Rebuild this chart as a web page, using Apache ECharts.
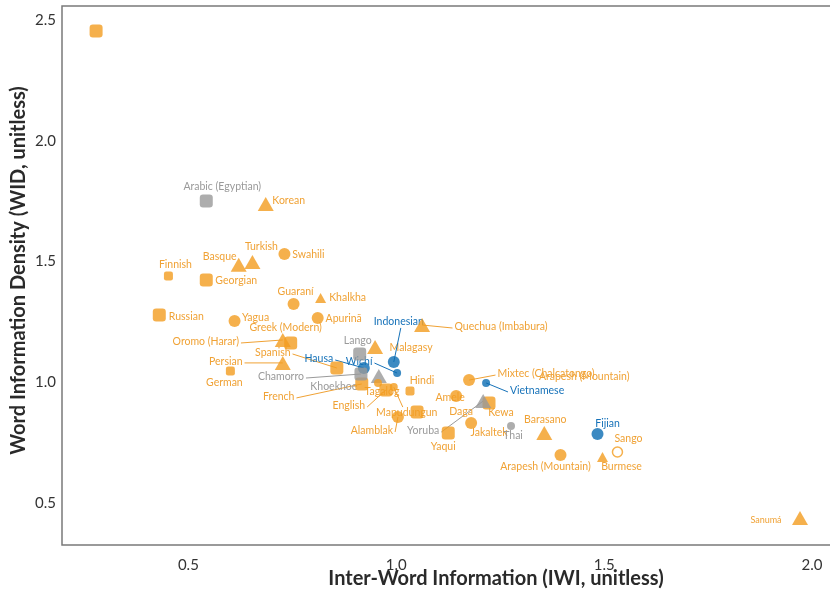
<!DOCTYPE html>
<html>
<head>
<meta charset="utf-8">
<script src="https://cdn.jsdelivr.net/npm/echarts@6/dist/echarts.min.js"></script>
<style>
  html, body { margin: 0; padding: 0; background: #fff; }
  #chart { width: 830px; height: 595px; }
</style>
</head>
<body>
<div id="chart"></div>
<script>
// Languages: inter-word information (IWI) vs word information density (WID)
const languages = ['', 'Arabic (Egyptian)', 'Korean', 'Turkish', 'Basque', 'Swahili', 'Finnish', 'Georgian',
  'Guaraní', 'Khalkha', 'Russian', 'Yagua', 'Apurinã', 'Greek (Modern)', 'Oromo (Harar)', 'Persian',
  'Spanish', 'German', 'Lango', 'Malagasy', 'Indonesian', 'Hausa', 'Wichí', 'French', 'Chamorro',
  'Khoekhoe', 'English', 'Tagalog', 'Mapudungun', 'Hindi', 'Alamblak', ' ', 'Amele',
  'Mixtec (Chalcatongo)', 'Vietnamese', 'Kewa', 'Yoruba', 'Jakaltek', 'Yaqui', 'Thai', 'Barasano',
  'Fijian', 'Sango', 'Burmese', 'Arapesh (Mountain)', 'Sanumá', 'Quechua (Imbabura)'];

const iwi = [0.278, 0.543, 0.686, 0.654, 0.621, 0.731, 0.452, 0.543,
  0.753, 0.818, 0.430, 0.611, 0.811, 0.746, 0.727, 0.727,
  0.857, 0.601, 0.912, 0.949, 0.994, 0.922, 1.002, 0.917, 0.915,
  0.958, 0.975, 0.956, 0.994, 1.033, 1.004, 1.050, 1.144,
  1.175, 1.216, 1.223, 1.209, 1.180, 1.125, 1.276, 1.356,
  1.484, 1.532, 1.496, 1.395, 1.971, 1.062];

const wid = [2.454, 1.751, 1.738, 1.498, 1.486, 1.531, 1.440, 1.423,
  1.324, 1.349, 1.278, 1.254, 1.266, 1.163, 1.175, 1.080,
  1.059, 1.047, 1.117, 1.146, 1.084, 1.059, 1.038, 0.993, 1.034,
  1.026, 0.968, 0.997, 0.980, 0.964, 0.856, 0.877, 0.943,
  1.009, 0.997, 0.914, 0.922, 0.831, 0.790, 0.819, 0.790,
  0.786, 0.711, 0.690, 0.699, 0.438, 1.237];

// group: a / b / c ; kind: square / circle / triangle / ring ; major: 1 = large marker class
const group = ['a', 'c', 'a', 'a', 'a', 'a', 'a', 'a',
  'a', 'a', 'a', 'a', 'a', 'a', 'a', 'a',
  'a', 'a', 'c', 'a', 'b', 'b', 'b', 'a', 'c',
  'c', 'a', 'a', 'a', 'a', 'a', 'a', 'a',
  'a', 'b', 'a', 'c', 'a', 'a', 'c', 'a',
  'b', 'a', 'a', 'a', 'a', 'a'];

const kind = ['square', 'square', 'triangle', 'triangle', 'triangle', 'circle', 'square', 'square',
  'circle', 'triangle', 'square', 'circle', 'circle', 'square', 'triangle', 'triangle',
  'square', 'square', 'square', 'triangle', 'circle', 'circle', 'circle', 'square', 'square',
  'triangle', 'square', 'circle', 'circle', 'square', 'circle', 'square', 'circle',
  'circle', 'circle', 'square', 'triangle', 'circle', 'square', 'circle', 'triangle',
  'circle', 'ring', 'triangle', 'circle', 'triangle', 'triangle'];

const major = [1, 1, 1, 1, 1, 1, 0, 1,
  1, 0, 1, 1, 1, 1, 1, 1,
  1, 0, 1, 1, 1, 1, 0, 1, 1,
  1, 1, 0, 0, 0, 1, 1, 1,
  1, 0, 1, 1, 1, 1, 0, 1,
  1, 1, 0, 1, 1, 1];

// Labels drawn without a marker of their own
const noteNames = ['Daga', 'Arapesh (Mountain)'];
const noteIwi = [1.156, 1.452];
const noteWid = [0.877, 1.022];

const xTicks = [0.5, 1.0, 1.5, 2.0];
const yTicks = [0.5, 1.0, 1.5, 2.0, 2.5];

// ---- presentation ----
const FILL = { a: '#F39C1F', b: '#0B6DB3', c: '#999999' };
const TEXT = { a: '#F0A235', b: '#1672B9', c: '#9A9A9A' };
const FONT = 'Lato, "Open Sans", sans-serif';
const LABEL_SIZE = 10.5;

function markerStyle(k, big) {
  if (k === 'square') return { symbol: 'roundRect', symbolSize: big ? 13 : 9 };
  if (k === 'circle') return { symbol: 'circle', symbolSize: big ? 12 : 8 };
  if (k === 'triangle') return { symbol: 'triangle', symbolSize: big ? [16, 14] : [11, 10] };
  return { symbol: 'circle', symbolSize: 10 };
}

// label centre offset from the marker centre (px); optional leader side: l / r / t / b
const labelPlace = {
  'Arabic (Egyptian)': [16, -14], 'Korean': [23, -3], 'Turkish': [9, -15], 'Basque': [-19, -8],
  'Swahili': [24, 1], 'Finnish': [7, -11], 'Georgian': [30, 1], 'Guaraní': [2, -12],
  'Khalkha': [27, 0], 'Russian': [27, 2], 'Yagua': [21, -3], 'Apurinã': [26, 1],
  'Greek (Modern)': [-5, -15], 'Oromo (Harar)': [-77, 2, 'r'], 'Persian': [-57, -1, 'r'],
  'Spanish': [-64, -15, 'r'], 'German': [-6, 12], 'Lango': [-2, -13], 'Malagasy': [36, 1],
  'Indonesian': [5, -40, 'b'], 'Hausa': [-45, -9, 'r'], 'Wichí': [-38, -11, 'r'],
  'Chamorro': [-80, 3, 'r'], 'Khoekhoe': [-45, 11], 'French': [-83, 13, 'r'],
  'English': [-37, 16, 'r'], 'Tagalog': [4, 9], 'Mapudungun': [13, 26, 't'], 'Hindi': [12, -10],
  'Alamblak': [-26, 14, 'r'], 'Amele': [-6, 2], 'Mixtec (Chalcatongo)': [77, -6, 'l'],
  'Vietnamese': [51, 8, 'l'], 'Kewa': [12, 10], 'Yoruba': [-60, 30, 'r'], 'Jakaltek': [18, 10],
  'Yaqui': [-5, 14], 'Thai': [2, 10], 'Barasano': [1, -13], 'Fijian': [10, -10], 'Sango': [11, -13],
  'Burmese': [19, 10], 'Arapesh (Mountain)': [-15, 12], 'Sanumá': [-34, 2], 'Quechua (Imbabura)': [79, 2, 'l']
};

// text width measurement for leader-line anchors
const measureCtx = document.createElement('canvas').getContext('2d');
function textWidth(text, size) {
  measureCtx.font = size + 'px ' + FONT;
  return measureCtx.measureText(text).width;
}

const labelRows = [];
languages.forEach((name, i) => {
  const place = labelPlace[name];
  if (!place) return;
  labelRows.push({ name, x: iwi[i], y: wid[i], color: TEXT[group[i]],
    size: name === 'Sanumá' ? 9 : LABEL_SIZE, dx: place[0], dy: place[1], side: place[2] || null });
});
noteNames.forEach((name, i) => {
  labelRows.push({ name, x: noteIwi[i], y: noteWid[i], color: TEXT.a, size: LABEL_SIZE, dx: 0, dy: 0, side: null });
});

function renderLabel(params, api) {
  const row = labelRows[params.dataIndex];
  const p = api.coord([api.value(0), api.value(1)]);
  const cx = p[0] + row.dx;
  const cy = p[1] + row.dy;
  const children = [{
    type: 'text',
    style: {
      text: row.name, x: cx, y: cy, fill: row.color,
      font: row.size + 'px ' + FONT, align: 'center', verticalAlign: 'middle'
    }
  }];
  if (row.side) {
    const w = textWidth(row.name, row.size);
    let a;
    if (row.side === 'r') a = [cx + w / 2 + 2, cy + 1];
    else if (row.side === 'l') a = [cx - w / 2 - 2, cy + 1];
    else if (row.side === 't') a = [cx - 4, cy - 6];
    else a = [cx + 2, cy + 6];
    children.push({
      type: 'line',
      shape: { x1: a[0], y1: a[1], x2: p[0], y2: p[1] },
      style: { stroke: row.color, lineWidth: 1 }
    });
  }
  return { type: 'group', children };
}

const markerItems = languages.map((name, i) => {
  const st = markerStyle(kind[i], major[i]);
  const ring = kind[i] === 'ring';
  return {
    name: name,
    value: [iwi[i], wid[i]],
    symbol: st.symbol,
    symbolSize: st.symbolSize,
    itemStyle: ring
      ? { color: '#ffffff', borderColor: FILL[group[i]], borderWidth: 1.5 }
      : { color: FILL[group[i]] }
  };
});

const chart = echarts.init(document.getElementById('chart'), null, { renderer: 'canvas' });
chart.setOption({
  animation: false,
  backgroundColor: '#ffffff',
  grid: {
    left: 62, top: 6, right: -2, bottom: 50,
    outerBoundsMode: 'none', containLabel: false,
    show: true, borderColor: '#7a7a7a', borderWidth: 1.5, backgroundColor: 'transparent'
  },
  xAxis: {
    type: 'value', min: 0.196, max: 2.048,
    name: 'Inter-Word Information (IWI, unitless)',
    nameLocation: 'middle', nameGap: 24, nameMoveOverlap: false,
    nameTextStyle: { fontFamily: FONT, fontWeight: 'bold', fontSize: 20, color: '#2a2a2a', padding: [0, 0, 0, 98] },
    axisLine: { show: false }, axisTick: { show: false }, splitLine: { show: false },
    axisLabel: {
      customValues: xTicks, margin: 13, fontFamily: FONT, fontSize: 15, color: '#333',
      formatter: v => v.toFixed(1)
    }
  },
  yAxis: {
    type: 'value', min: 0.326, max: 2.558,
    name: 'Word Information Density (WID, unitless)',
    nameLocation: 'middle', nameGap: 33, nameMoveOverlap: false,
    nameTextStyle: { fontFamily: FONT, fontWeight: 'bold', fontSize: 20, color: '#2a2a2a', padding: [0, 0, 0, 10] },
    axisLine: { show: false }, axisTick: { show: false }, splitLine: { show: false },
    axisLabel: {
      customValues: yTicks, margin: 6, fontFamily: FONT, fontSize: 15, color: '#333',
      formatter: v => v.toFixed(1)
    }
  },
  series: [
    {
      name: 'labels',
      type: 'custom',
      z: 2,
      silent: true,
      clip: false,
      renderItem: renderLabel,
      encode: { x: 0, y: 1 },
      data: labelRows.map(r => [r.x, r.y])
    },
    {
      name: 'languages',
      type: 'scatter',
      z: 3,
      data: markerItems
    }
  ]
});
</script>
</body>
</html>
